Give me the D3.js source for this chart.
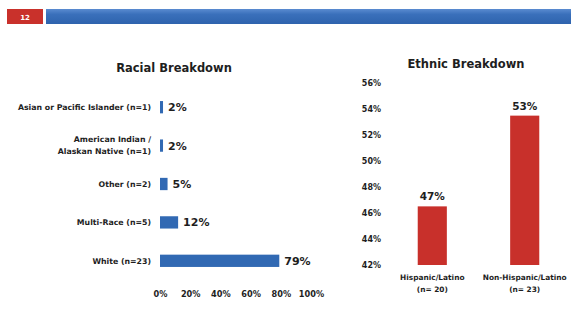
<!DOCTYPE html>
<html>
<head>
<meta charset="utf-8">
<script src="https://cdn.jsdelivr.net/npm/d3@7/dist/d3.min.js"></script>
<style>
  html, body { margin: 0; padding: 0; background: #fff; }
  svg { display: block; font-family: "DejaVu Sans", sans-serif; font-weight: bold; }
</style>
</head>
<body>
<svg id="chart" width="571" height="325"></svg>
<script>
// Racial breakdown (horizontal bars)
const raceCategories = [
  ["Asian or Pacific Islander (n=1)"],
  ["American Indian /", "Alaskan Native (n=1)"],
  ["Other (n=2)"],
  ["Multi-Race (n=5)"],
  ["White (n=23)"]
];
const raceValues = [0.02, 0.02, 0.05, 0.12, 0.79];
const raceTicks = [0, 0.2, 0.4, 0.6, 0.8, 1.0];

// Ethnic breakdown (vertical bars)
const ethnicCategories = [
  ["Hispanic/Latino", "(n= 20)"],
  ["Non-Hispanic/Latino", "(n= 23)"]
];
const ethnicValues = [0.4651, 0.5349];
const ethnicTicks = [0.42, 0.44, 0.46, 0.48, 0.50, 0.52, 0.54, 0.56];

const pageNumber = "12";

const svg = d3.select("#chart");
const blue = "#3169b3";
const red = "#c8302b";
const ink = "#1e1e1e";
const pct = d3.format(".0%");

// Header strip
svg.append("rect").attr("x", 7).attr("y", 9).attr("width", 36).attr("height", 15).attr("fill", "#c9312b");
svg.append("text").attr("x", 25).attr("y", 19.5).attr("text-anchor", "middle")
  .attr("font-size", 7).attr("fill", "#fff").text(pageNumber);
const hdrGrad = svg.append("defs").append("linearGradient").attr("id", "hdr")
  .attr("x1", 0).attr("x2", 0).attr("y1", 0).attr("y2", 1);
hdrGrad.append("stop").attr("offset", "0%").attr("stop-color", "#5a8bd0");
hdrGrad.append("stop").attr("offset", "35%").attr("stop-color", "#3a70bb");
hdrGrad.append("stop").attr("offset", "100%").attr("stop-color", "#2e63ad");
svg.append("rect").attr("x", 46).attr("y", 9).attr("width", 525).attr("height", 15).attr("fill", "url(#hdr)");

// ---- Racial breakdown ----
svg.append("text").attr("x", 174).attr("y", 72).attr("text-anchor", "middle")
  .attr("font-size", 11.5).attr("fill", ink).text("Racial Breakdown");

const xRace = d3.scaleLinear().domain([0, 1]).range([160, 311]);
const yRace = d3.scaleBand().domain(d3.range(raceValues.length)).range([88, 280]).paddingInner(0.68).paddingOuter(0.34);

const raceG = svg.append("g");
raceG.selectAll("rect").data(raceValues).join("rect")
  .attr("x", xRace(0))
  .attr("y", (d, i) => yRace(i))
  .attr("width", d => xRace(d) - xRace(0))
  .attr("height", yRace.bandwidth())
  .attr("fill", blue);

raceG.selectAll("text.val").data(raceValues).join("text")
  .attr("class", "val")
  .attr("x", d => xRace(d) + 5)
  .attr("y", (d, i) => yRace(i) + yRace.bandwidth() / 2 + 4)
  .attr("font-size", 11).attr("fill", ink)
  .text(d => pct(d));

raceG.selectAll("text.cat").data(raceCategories).join("text")
  .attr("class", "cat")
  .attr("text-anchor", "end")
  .attr("font-size", 7.8).attr("fill", ink)
  .attr("transform", (d, i) => `translate(151,${yRace(i) + yRace.bandwidth() / 2 + 2.8 - (d.length - 1) * 6})`)
  .each(function(lines) {
    d3.select(this).selectAll("tspan").data(lines).join("tspan")
      .attr("x", 0).attr("dy", (l, j) => j === 0 ? 0 : 12).text(l => l);
  });

const xAxis = svg.append("g").attr("transform", "translate(0,286)")
  .call(d3.axisBottom(xRace).tickValues(raceTicks).tickFormat(pct).tickSize(0).tickPadding(5));
xAxis.select(".domain").remove();
xAxis.selectAll("text").attr("font-size", 8.2).attr("fill", ink)
  .attr("font-family", "DejaVu Sans").attr("font-weight", "bold");

// ---- Ethnic breakdown ----
svg.append("text").attr("x", 466).attr("y", 68).attr("text-anchor", "middle")
  .attr("font-size", 11.5).attr("fill", ink).text("Ethnic Breakdown");

const yEth = d3.scaleLinear().domain([0.42, 0.56]).range([265, 83]);
const xEth = d3.scaleBand().domain(d3.range(ethnicValues.length)).range([390, 567]).paddingInner(0.685).paddingOuter(0.3);

const yAxis = svg.append("g").attr("transform", "translate(381,0)")
  .call(d3.axisLeft(yEth).tickValues(ethnicTicks).tickFormat(pct).tickSize(0).tickPadding(0));
yAxis.select(".domain").remove();
yAxis.selectAll("text").attr("font-size", 8).attr("fill", ink)
  .attr("font-family", "DejaVu Sans").attr("font-weight", "bold");

const ethG = svg.append("g");
ethG.selectAll("rect").data(ethnicValues).join("rect")
  .attr("x", (d, i) => xEth(i))
  .attr("y", d => yEth(d))
  .attr("width", xEth.bandwidth())
  .attr("height", d => yEth(0.42) - yEth(d))
  .attr("fill", red);

ethG.selectAll("text.val").data(ethnicValues).join("text")
  .attr("class", "val")
  .attr("x", (d, i) => xEth(i) + xEth.bandwidth() / 2)
  .attr("y", d => yEth(d) - 6)
  .attr("text-anchor", "middle")
  .attr("font-size", 10.5).attr("fill", ink)
  .text(d => pct(d));

ethG.selectAll("text.cat").data(ethnicCategories).join("text")
  .attr("class", "cat")
  .attr("text-anchor", "middle")
  .attr("font-size", 7.4).attr("fill", ink)
  .attr("transform", (d, i) => `translate(${xEth(i) + xEth.bandwidth() / 2},280)`)
  .each(function(lines) {
    d3.select(this).selectAll("tspan").data(lines).join("tspan")
      .attr("x", 0).attr("dy", (l, j) => j === 0 ? 0 : 12).text(l => l);
  });
</script>
</body>
</html>
